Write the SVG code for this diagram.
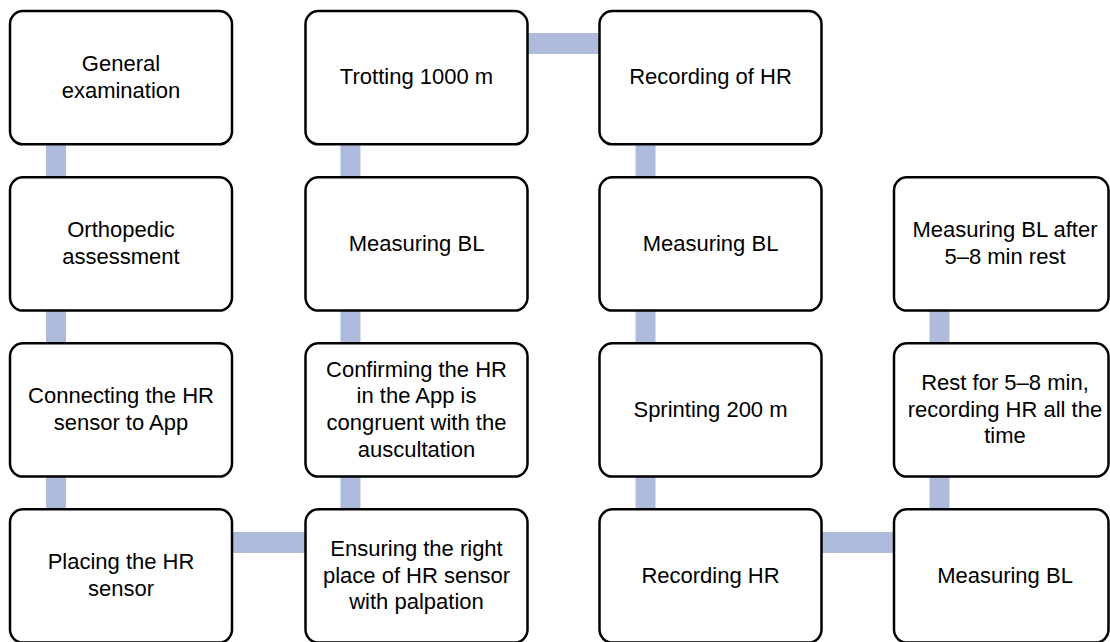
<svg xmlns="http://www.w3.org/2000/svg" width="1110" height="642" viewBox="0 0 1110 642">
  <style>
    .box { fill: #ffffff; stroke: #000000; stroke-width: 2.5; }
    .link { fill: #AEBBDD; stroke: none; }
    text { font-family: "Liberation Sans", Arial, sans-serif; font-size: 22px; fill: #000000; text-anchor: middle; }
  </style>
  <rect width="1110" height="642" fill="#ffffff"/>

  <!-- connectors (drawn beneath the boxes) -->
  <g id="connectors">
    <rect class="link" x="46" y="140" width="20" height="373"/>
    <rect class="link" x="340.5" y="140" width="20" height="373"/>
    <rect class="link" x="635.5" y="140" width="20" height="373"/>
    <rect class="link" x="929.5" y="306" width="20" height="207"/>
    <rect class="link" x="228" y="532" width="82" height="21"/>
    <rect class="link" x="523" y="33" width="80" height="21"/>
    <rect class="link" x="818" y="532" width="80" height="21"/>
  </g>

  <!-- column 1 -->
  <g id="general-examination">
    <rect class="box" x="10" y="11" width="222" height="133.3" rx="13"/>
    <text x="121" y="71">General</text>
    <text x="121" y="97.7">examination</text>
  </g>
  <g id="orthopedic-assessment">
    <rect class="box" x="10" y="177.3" width="222" height="133.3" rx="13"/>
    <text x="121" y="237.3">Orthopedic</text>
    <text x="121" y="264">assessment</text>
  </g>
  <g id="connecting-sensor">
    <rect class="box" x="10" y="343.3" width="222" height="133.3" rx="13"/>
    <text x="121" y="403.3">Connecting the HR</text>
    <text x="121" y="430">sensor to App</text>
  </g>
  <g id="placing-sensor">
    <rect class="box" x="10" y="509.3" width="222" height="133.3" rx="13"/>
    <text x="121" y="569.3">Placing the HR</text>
    <text x="121" y="596">sensor</text>
  </g>

  <!-- column 2 -->
  <g id="trotting">
    <rect class="box" x="305.5" y="11" width="222" height="133.3" rx="13"/>
    <text x="416.5" y="84">Trotting 1000 m</text>
  </g>
  <g id="measuring-bl-1">
    <rect class="box" x="305.5" y="177.3" width="222" height="133.3" rx="13"/>
    <text x="416.5" y="250.5">Measuring BL</text>
  </g>
  <g id="confirming-hr">
    <rect class="box" x="305.5" y="343.3" width="222" height="133.3" rx="13"/>
    <text x="416.5" y="376.7">Confirming the HR</text>
    <text x="416.5" y="403.3">in the App is</text>
    <text x="416.5" y="430">congruent with the</text>
    <text x="416.5" y="456.7">auscultation</text>
  </g>
  <g id="ensuring-place">
    <rect class="box" x="305.5" y="509.3" width="222" height="133.3" rx="13"/>
    <text x="416.5" y="556">Ensuring the right</text>
    <text x="416.5" y="582.7">place of HR sensor</text>
    <text x="416.5" y="609.4">with palpation</text>
  </g>

  <!-- column 3 -->
  <g id="recording-of-hr">
    <rect class="box" x="599.5" y="11" width="222" height="133.3" rx="13"/>
    <text x="710.5" y="84">Recording of HR</text>
  </g>
  <g id="measuring-bl-2">
    <rect class="box" x="599.5" y="177.3" width="222" height="133.3" rx="13"/>
    <text x="710.5" y="250.5">Measuring BL</text>
  </g>
  <g id="sprinting">
    <rect class="box" x="599.5" y="343.3" width="222" height="133.3" rx="13"/>
    <text x="710.5" y="416.5">Sprinting 200 m</text>
  </g>
  <g id="recording-hr">
    <rect class="box" x="599.5" y="509.3" width="222" height="133.3" rx="13"/>
    <text x="710.5" y="582.5">Recording HR</text>
  </g>

  <!-- column 4 -->
  <g id="measuring-bl-after-rest">
    <rect class="box" x="894" y="177.3" width="214.5" height="133.3" rx="13"/>
    <text x="1005" y="237.3">Measuring BL after</text>
    <text x="1005" y="264">5–8 min rest</text>
  </g>
  <g id="rest">
    <rect class="box" x="894" y="343.3" width="214.5" height="133.3" rx="13"/>
    <text x="1005" y="390">Rest for 5–8 min,</text>
    <text x="1005" y="416.7">recording HR all the</text>
    <text x="1005" y="443.4">time</text>
  </g>
  <g id="measuring-bl-3">
    <rect class="box" x="894" y="509.3" width="214.5" height="133.3" rx="13"/>
    <text x="1005" y="582.5">Measuring BL</text>
  </g>
</svg>
